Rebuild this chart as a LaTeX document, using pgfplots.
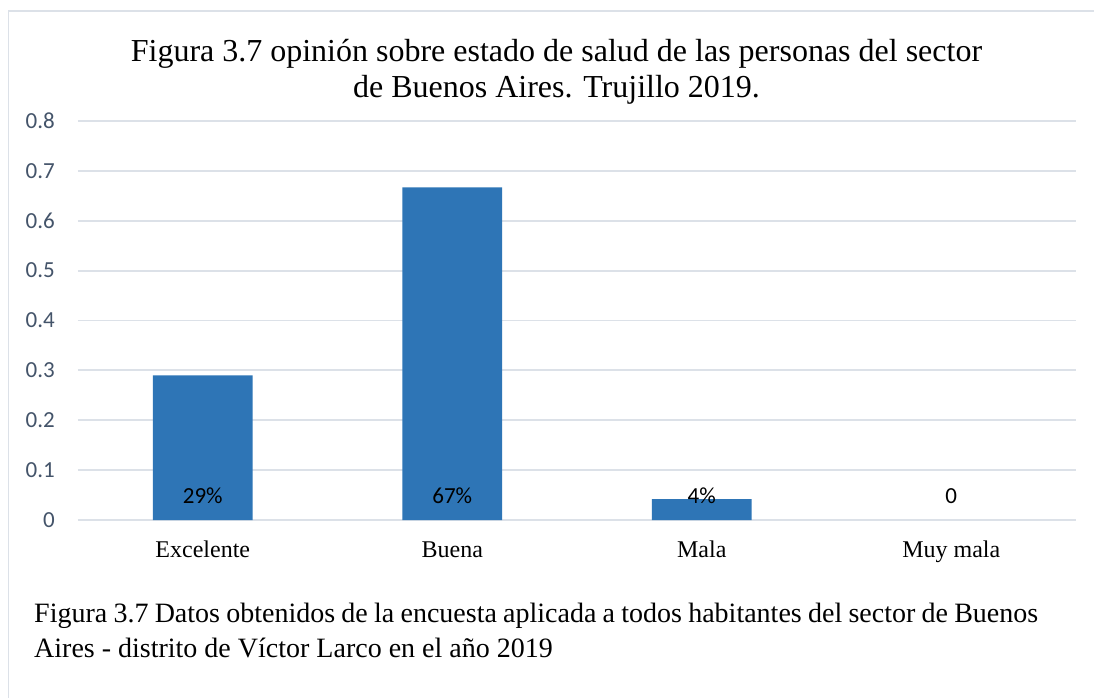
\documentclass[border=0pt]{standalone}
\usepackage{fontspec}
\setmainfont{Liberation Serif}
\newfontfamily\carlito{Carlito}
\usepackage{pgfplots}
\pgfplotsset{compat=1.18}
\definecolor{barblue}{RGB}{46,117,182}
\definecolor{gridcol}{RGB}{220,225,232}
\definecolor{framecol}{RGB}{220,225,232}
\definecolor{tickcol}{RGB}{68,84,106}
\begin{document}
\begin{tikzpicture}
\useasboundingbox (-78pt,-178pt) rectangle (1016pt,520pt);
\fill[white] (-78pt,-178pt) rectangle (1016pt,520pt);
\draw[framecol, line width=1.4pt] (-69.5pt,-180pt) -- (-69.5pt,509pt) -- (1020pt,509pt);
\begin{axis}[
  at={(0pt,0pt)}, anchor=south west,
  scale only axis, width=998pt, height=399pt,
  xmin=-0.5, xmax=3.5, ymin=0, ymax=0.8,
  xtick={0,1,2,3},
  xticklabels={Excelente,Buena,Mala,Muy mala},
  ytick={0,0.1,0.2,0.3,0.4,0.5,0.6,0.7,0.8},
  yticklabels={0,0.1,0.2,0.3,0.4,0.5,0.6,0.7,0.8},
  major tick length=0pt,
  axis line style={draw=none},
  ymajorgrids,
  grid style={gridcol, line width=1.8pt},
  yticklabel style={font=\fontsize{23}{27}\carlito, text=tickcol, anchor=east, inner sep=0pt, xshift=-23pt},
  xticklabel style={font=\fontsize{24}{28}\selectfont, text=black, anchor=base, inner sep=0pt, yshift=-37pt},
  clip=false,
]
\addplot[ybar, bar width=0.4, fill=barblue, draw=none, bar shift=0pt] coordinates {(0,0.29) (1,0.667) (2,0.042)};
\addplot[only marks, mark=*, mark size=0pt, mark options={draw=none, fill=none},
  nodes near coords, point meta=explicit symbolic,
  nodes near coords style={anchor=base, inner sep=0pt, font=\fontsize{23}{27}\carlito, text=black}]
  coordinates {(0,0.034) [29\%] (1,0.034) [67\%] (2,0.034) [4\%] (3,0.034) [0]};
\end{axis}
\node[anchor=base, inner sep=0pt, font=\fontsize{32}{36}\selectfont] at (478.5pt,458pt) {Figura 3.7 opinión sobre estado de salud de las personas del sector};
\node[anchor=base, inner sep=0pt, font=\fontsize{32}{36}\selectfont] at (478.5pt,422pt) {de Buenos Aires. Trujillo 2019.};
\node[anchor=base west, inner sep=0pt, font=\fontsize{28}{32}\selectfont] at (-44pt,-102pt) {\makebox[1004pt][s]{Figura 3.7 Datos obtenidos de la encuesta aplicada a todos habitantes del sector de Buenos}};
\node[anchor=base west, inner sep=0pt, font=\fontsize{28}{32}\selectfont] at (-44pt,-137pt) {Aires - distrito de Víctor Larco en el año 2019};
\end{tikzpicture}
\end{document}
